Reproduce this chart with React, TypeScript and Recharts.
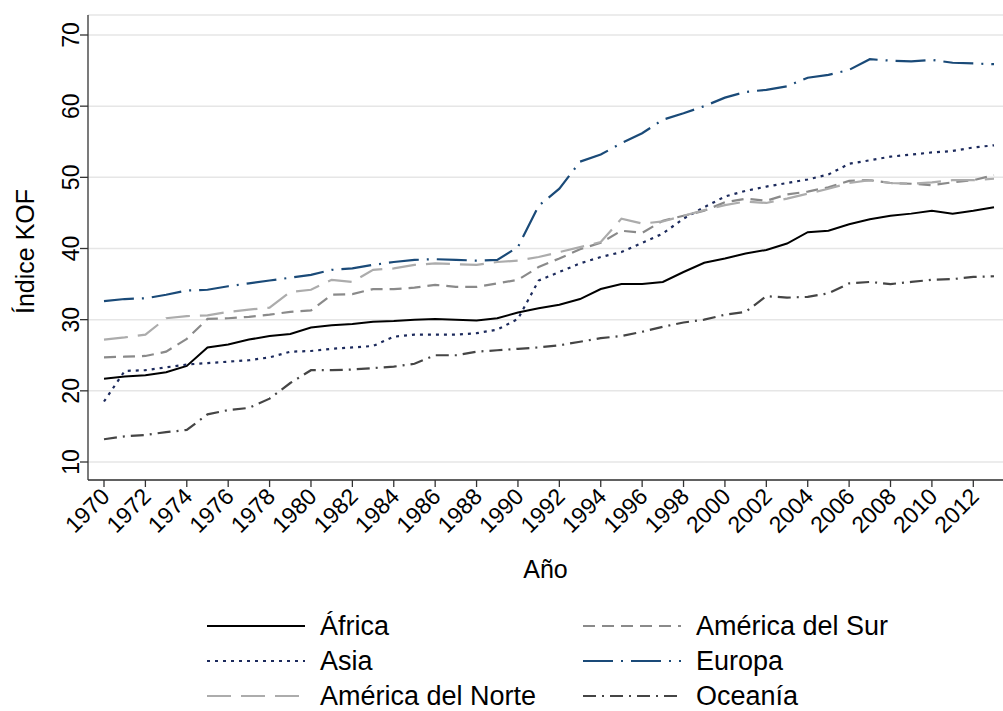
import React from "react";
import { LineChart, Line, XAxis, YAxis, CartesianGrid, Legend } from "recharts";

const years = [1970, 1971, 1972, 1973, 1974, 1975, 1976, 1977, 1978, 1979, 1980, 1981, 1982, 1983, 1984, 1985, 1986, 1987, 1988, 1989, 1990, 1991, 1992, 1993, 1994, 1995, 1996, 1997, 1998, 1999, 2000, 2001, 2002, 2003, 2004, 2005, 2006, 2007, 2008, 2009, 2010, 2011, 2012, 2013];
const africa = [21.7, 22.0, 22.2, 22.6, 23.5, 26.1, 26.5, 27.2, 27.7, 28.0, 28.9, 29.2, 29.4, 29.7, 29.8, 30.0, 30.1, 30.0, 29.9, 30.2, 31.0, 31.6, 32.1, 32.9, 34.3, 35.0, 35.0, 35.3, 36.7, 38.0, 38.6, 39.3, 39.8, 40.7, 42.3, 42.5, 43.4, 44.1, 44.6, 44.9, 45.3, 44.9, 45.3, 45.8];
const asia = [18.5, 22.8, 22.9, 23.3, 23.7, 23.9, 24.1, 24.3, 24.7, 25.5, 25.6, 25.9, 26.1, 26.3, 27.6, 27.9, 27.9, 27.9, 28.1, 28.6, 30.1, 35.5, 36.7, 37.9, 38.8, 39.5, 40.8, 42.1, 44.2, 45.8, 47.3, 48.1, 48.7, 49.2, 49.7, 50.4, 51.9, 52.4, 52.9, 53.2, 53.5, 53.7, 54.2, 54.5];
const americaNorte = [27.2, 27.5, 27.9, 30.2, 30.5, 30.6, 31.1, 31.4, 31.7, 33.9, 34.2, 35.6, 35.3, 37.0, 37.2, 37.7, 37.9, 37.8, 37.7, 38.1, 38.3, 38.8, 39.5, 40.2, 40.9, 44.2, 43.5, 43.8, 44.6, 45.4, 46.1, 46.6, 46.4, 47.0, 47.7, 48.4, 49.2, 49.6, 49.2, 49.1, 49.3, 49.6, 49.6, 49.8];
const americaSur = [24.7, 24.8, 24.9, 25.5, 27.3, 30.1, 30.2, 30.4, 30.7, 31.1, 31.3, 33.5, 33.6, 34.3, 34.3, 34.5, 34.9, 34.6, 34.6, 35.1, 35.6, 37.4, 38.6, 39.9, 40.8, 42.5, 42.2, 43.9, 44.6, 45.3, 46.5, 47.0, 46.7, 47.6, 48.0, 48.6, 49.5, 49.6, 49.2, 49.1, 48.9, 49.3, 49.6, 50.3];
const europa = [32.6, 32.9, 33.0, 33.5, 34.1, 34.2, 34.7, 35.1, 35.5, 35.9, 36.3, 37.0, 37.2, 37.7, 38.1, 38.4, 38.5, 38.4, 38.3, 38.4, 40.2, 46.0, 48.4, 52.2, 53.2, 54.8, 56.2, 58.1, 59.0, 60.0, 61.2, 62.0, 62.3, 62.8, 64.0, 64.4, 65.1, 66.6, 66.4, 66.3, 66.5, 66.1, 66.0, 65.9];
const oceania = [13.2, 13.6, 13.8, 14.2, 14.5, 16.7, 17.3, 17.6, 18.9, 21.1, 22.9, 22.9, 23.0, 23.2, 23.4, 23.8, 25.0, 25.0, 25.5, 25.7, 25.9, 26.1, 26.4, 26.9, 27.4, 27.7, 28.3, 29.0, 29.6, 30.0, 30.7, 31.1, 33.3, 33.1, 33.2, 33.7, 35.1, 35.3, 35.0, 35.3, 35.6, 35.7, 36.0, 36.1];

const xTicks = [1970, 1972, 1974, 1976, 1978, 1980, 1982, 1984, 1986, 1988, 1990, 1992, 1994, 1996, 1998, 2000, 2002, 2004, 2006, 2008, 2010, 2012];
const yTicks = [10, 20, 30, 40, 50, 60, 70];

const FONT = "'Liberation Sans', Arial, Helvetica, sans-serif";

type S = { key: string; name: string; color: string; dash?: string; width: number };
const series: S[] = [
  { key: "africa", name: "África", color: "#000000", width: 2 },
  { key: "americaSur", name: "América del Sur", color: "#8a8a8a", dash: "12 7", width: 2.2 },
  { key: "asia", name: "Asia", color: "#1c2a5c", dash: "3 5", width: 2.2 },
  { key: "europa", name: "Europa", color: "#1a4a78", dash: "30 8 2 8", width: 2.2 },
  { key: "americaNorte", name: "América del Norte", color: "#acacac", dash: "24 10", width: 2.2 },
  { key: "oceania", name: "Oceanía", color: "#454545", dash: "13 6 2 6", width: 2.2 },
];

const data = years.map((year, i) => ({
  year,
  africa: africa[i],
  asia: asia[i],
  americaNorte: americaNorte[i],
  americaSur: americaSur[i],
  europa: europa[i],
  oceania: oceania[i],
}));

const XTick = (props: any) => {
  const { x, y, payload } = props;
  const ax = x + 7;
  const ay = y + 11;
  return (
    <text x={ax} y={ay} textAnchor="end" fontSize={23} fontFamily={FONT} fill="#000" transform={`rotate(-45 ${ax} ${ay})`}>
      {payload.value}
    </text>
  );
};

const YTick = (props: any) => {
  const { x, y, payload } = props;
  const ax = x - 1;
  return (
    <text x={ax} y={y} textAnchor="middle" fontSize={23} fontFamily={FONT} fill="#000" transform={`rotate(-90 ${ax} ${y})`}>
      {payload.value}
    </text>
  );
};

const LegendContent = () => {
  const cols = [207, 583];
  const rows = [626, 661, 696];
  return (
    <svg width={1003} height={106} style={{ display: "block" }}>
      {series.map((s, i) => {
        const cx = cols[i % 2];
        const cy = rows[Math.floor(i / 2)] - 605;
        return (
          <g key={s.key}>
            <line x1={cx} x2={cx + 98} y1={cy} y2={cy} stroke={s.color} strokeWidth={s.width} strokeDasharray={s.dash} />
            <text x={cx + 113} y={cy + 9} fontSize={27} fontFamily={FONT} fill="#000">
              {s.name}
            </text>
          </g>
        );
      })}
    </svg>
  );
};

export default function App() {
  return (
    <div style={{ position: "absolute", left: 0, top: 0, width: 1003, height: 711, background: "#fff" }}>
      <LineChart width={1003} height={711} data={data} margin={{ top: 15, right: 0, bottom: 25, left: 0 }}>
        <CartesianGrid vertical={false} stroke="#e6e6e6" strokeWidth={1.5} />
        <XAxis
          dataKey="year"
          type="number"
          domain={[1970, 2013]}
          ticks={xTicks}
          padding={{ left: 16, right: 9 }}
          tickSize={7}
          tickMargin={0}
          height={100}
          stroke="#333"
          strokeWidth={1.3}
          tick={<XTick />}
          interval={0}
          label={{ value: "Año", position: "insideBottom", offset: 2, fontSize: 25, fontFamily: FONT, fill: "#000" }}
        />
        <YAxis
          type="number"
          domain={[10, 70]}
          ticks={yTicks}
          padding={{ top: 20, bottom: 18 }}
          width={88}
          tickSize={8}
          tickMargin={0}
          stroke="#333"
          strokeWidth={1.3}
          tick={<YTick />}
          interval={0}
          label={{
            content: (p: any) => {
              const vb = p.viewBox || {};
              const cy = (vb.y ?? 15) + (vb.height ?? 465) / 2 + 4;
              return (
                <text x={34} y={cy} textAnchor="middle" fontSize={25} fontFamily={FONT} fill="#000" transform={`rotate(-90 34 ${cy})`}>
                  Índice KOF
                </text>
              );
            },
          }}
        />
        <Legend layout="vertical" align="center" verticalAlign="bottom" wrapperStyle={{ top: 605, left: 0, width: 1003, height: 106, bottom: "auto" }} content={<LegendContent />} />
        {series.map((s) => (
          <Line
            key={s.key}
            dataKey={s.key}
            name={s.name}
            type="linear"
            stroke={s.color}
            strokeWidth={s.width}
            strokeDasharray={s.dash}
            dot={false}
            activeDot={false}
            isAnimationActive={false}
          />
        ))}
      </LineChart>
    </div>
  );
}
